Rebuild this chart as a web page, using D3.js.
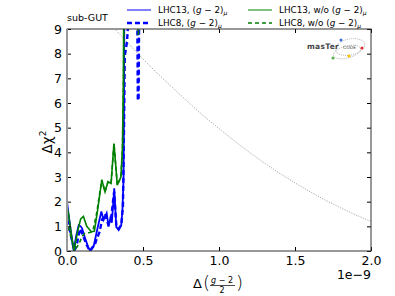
<!DOCTYPE html>
<html lang="en">
<head>
<meta charset="utf-8" />
<title>sub-GUT chi2</title>
<script src="https://cdn.jsdelivr.net/npm/d3@7"></script>
<style>
  body { margin: 0; background: #fff; }
  text { font-family: "DejaVu Sans", sans-serif; }
</style>
</head>
<body>
<svg id="chart" width="395" height="296"></svg>
<script>
// values (x in units of 1e-9)
const xTicks = [0, 0.5, 1.0, 1.5, 2.0];
const yTicks = [0, 1, 2, 3, 4, 5, 6, 7, 8, 9];

const lhc13X = [0, 0.01, 0.03, 0.044, 0.06, 0.077, 0.09, 0.099, 0.12, 0.14, 0.153, 0.175, 0.2, 0.226, 0.241, 0.261, 0.274, 0.285, 0.295, 0.311, 0.324, 0.34, 0.357, 0.365, 0.372, 0.375, 0.377];
const lhc13Y = [2.0, 1.5, 0.6, 0.0, 0.6, 1.05, 1.0, 0.92, 0.5, 0.15, 0.0, 0.18, 0.9, 1.6, 1.26, 1.53, 0.99, 1.33, 1.15, 2.54, 0.98, 0.85, 1.05, 1.7, 2.9, 6, 9.5];

const lhc8X = [0, 0.01, 0.03, 0.048, 0.066, 0.085, 0.1, 0.13, 0.15, 0.186, 0.197, 0.215, 0.23, 0.25, 0.27, 0.29, 0.31, 0.325, 0.34, 0.357, 0.368, 0.375, 0.38, 0.385, 0.395, 0.405, 0.43, 0.462, 0.466, 0.471, 0.475, 0.5];
const lhc8Y = [1.26, 1.1, 0.5, 0.0, 0.31, 0.9, 0.7, 0.24, 0.0, 0.31, 0.52, 0.78, 1.26, 1.5, 1.1, 1.3, 2.4, 1.0, 0.9, 1.05, 1.8, 5, 7.9, 8.1, 8.5, 9.5, 12, 10, 6.1, 6.2, 10, 14];

const lhc13woX = [0, 0.01, 0.03, 0.046, 0.07, 0.09, 0.108, 0.13, 0.16, 0.18, 0.2, 0.229, 0.25, 0.27, 0.29, 0.309, 0.331, 0.355, 0.365, 0.371, 0.373];
const lhc13woY = [1.8, 1.5, 0.6, 0.0, 0.8, 1.3, 1.4, 1.0, 0.78, 0.8, 1.6, 2.88, 2.4, 2.81, 2.74, 4.36, 2.67, 3.01, 4.2, 7, 9.5];

const lhc8woX = [0, 0.01, 0.03, 0.05, 0.08, 0.1, 0.118, 0.15, 0.17, 0.195, 0.229, 0.25, 0.27, 0.29, 0.309, 0.331, 0.355, 0.365, 0.372, 0.375, 0.42, 0.462, 0.466, 0.47, 0.474, 0.5];
const lhc8woY = [0.95, 0.92, 0.5, 0.0, 0.3, 0.6, 0.72, 0.75, 0.8, 1.53, 2.88, 2.4, 2.81, 2.74, 4.36, 2.67, 3.01, 4.2, 7, 9.5, 12, 10, 8.8, 8.8, 10, 13];

// dotted reference curve
const refX = [0.3, 0.4, 0.5, 0.6, 0.7, 0.8, 0.9, 1.0, 1.1, 1.2, 1.3, 1.4, 1.5, 1.6, 1.7, 1.8, 1.9, 2.0];
const refY = [9.1, 8.44, 7.78, 7.17, 6.59, 6.02, 5.47, 4.96, 4.47, 4.0, 3.56, 3.15, 2.76, 2.4, 2.06, 1.75, 1.46, 1.2];

const svg = d3.select("#chart");
const margin = { top: 29, right: 24, bottom: 45, left: 67 };
const width = 395, height = 296;
const innerWidth = width - margin.left - margin.right;
const innerHeight = height - margin.top - margin.bottom;

const g = svg.append("g").attr("transform", `translate(${margin.left},${margin.top})`);

const x = d3.scaleLinear().domain([0, 2]).range([0, innerWidth]);
const y = d3.scaleLinear().domain([0, 9]).range([innerHeight, 0]);

g.append("clipPath").attr("id", "clip")
  .append("rect").attr("width", innerWidth).attr("height", innerHeight);

const plot = g.append("g").attr("clip-path", "url(#clip)");

const line = d3.line().x(d => x(d[0])).y(d => y(d[1]));
const zip = (xs, ys) => xs.map((v, i) => [v, ys[i]]);

plot.append("path")
  .attr("d", line(zip(refX, refY)))
  .attr("fill", "none").attr("stroke", "#999").attr("stroke-width", 1)
  .attr("stroke-dasharray", "1,1.5");

const series = [
  { xs: lhc13X, ys: lhc13Y, color: "#0000ff", w: 1.8, dash: null },
  { xs: lhc8X, ys: lhc8Y, color: "#0000ff", w: 2.4, dash: "5,3" },
  { xs: lhc13woX, ys: lhc13woY, color: "#008000", w: 1.6, dash: null },
  { xs: lhc8woX, ys: lhc8woY, color: "#008000", w: 1.6, dash: "4,3" }
];

series.forEach(s => {
  plot.append("path")
    .attr("d", line(zip(s.xs, s.ys)))
    .attr("fill", "none")
    .attr("stroke", s.color)
    .attr("stroke-width", s.w)
    .attr("stroke-dasharray", s.dash);
});

// axes, matplotlib style inward ticks
const fmt = d3.format(".1f");
const styleAxis = (sel) => {
  sel.select(".domain").remove();
  sel.selectAll("line").attr("stroke", "#000");
  sel.selectAll("text").attr("font-size", "12.5px").attr("fill", "#000")
    .style("font-family", "DejaVu Sans");
};
const noLabels = (sel) => {
  sel.select(".domain").remove();
  sel.selectAll("line").attr("stroke", "#000");
  sel.selectAll("text").remove();
};

g.append("g").attr("transform", `translate(0,${innerHeight})`)
  .call(d3.axisBottom(x).tickValues(xTicks).tickFormat(fmt).tickSize(-4).tickPadding(5))
  .call(styleAxis);
g.append("g")
  .call(d3.axisTop(x).tickValues(xTicks).tickSize(-4))
  .call(noLabels);
g.append("g")
  .call(d3.axisLeft(y).tickValues(yTicks).tickSize(-4).tickPadding(5))
  .call(styleAxis);
g.append("g").attr("transform", `translate(${innerWidth},0)`)
  .call(d3.axisRight(y).tickValues(yTicks).tickSize(-4))
  .call(noLabels);

// frame
g.append("rect").attr("width", innerWidth).attr("height", innerHeight)
  .attr("fill", "none").attr("stroke", "#333").attr("stroke-width", 1);
g.append("line").attr("x1", 0).attr("x2", 0).attr("y1", 0).attr("y2", innerHeight)
  .attr("stroke", "#999").attr("stroke-width", 2);

// axis labels
const yl = svg.append("text")
  .attr("transform", `translate(52,142) rotate(-90)`)
  .attr("text-anchor", "middle").attr("font-size", "13.5px");
yl.append("tspan").text("Δχ");
yl.append("tspan").attr("font-size", "9px").attr("dy", "-6").text("2");

const xl = svg.append("g").attr("transform", "translate(193,0)");
xl.append("text").attr("x", 0).attr("y", 288).attr("font-size", "13px").text("Δ");
xl.append("text").attr("x", 10).attr("y", 289).attr("font-size", "18px").attr("font-weight", "200").text("(");
xl.append("text").attr("x", 29).attr("y", 283).attr("font-size", "8px").attr("text-anchor", "middle")
  .html('<tspan font-style="italic">g</tspan> − 2');
xl.append("line").attr("x1", 17).attr("x2", 42).attr("y1", 285.5).attr("y2", 285.5)
  .attr("stroke", "#000").attr("stroke-width", 0.7);
xl.append("text").attr("x", 29).attr("y", 293).attr("font-size", "8px").attr("text-anchor", "middle").text("2");
xl.append("text").attr("x", 43).attr("y", 289).attr("font-size", "18px").attr("font-weight", "200").text(")");

svg.append("text").attr("x", 371).attr("y", 279).attr("text-anchor", "end")
  .attr("font-size", "12.5px").text("1e−9");

svg.append("text").attr("x", 67).attr("y", 21).attr("font-size", "9.5px").text("sub-GUT");

// legend
const legendItems = [
  { label: "LHC13, ", color: "#0000ff", w: 1, dash: null, lx: 127, ly: 10 },
  { label: "LHC8, ", color: "#0000ff", w: 2.4, dash: "5,3", lx: 127, ly: 23 },
  { label: "LHC13, w/o ", color: "#008000", w: 1, dash: null, lx: 248, ly: 10 },
  { label: "LHC8, w/o ", color: "#008000", w: 1.6, dash: "4,3", lx: 248, ly: 23 }
];
legendItems.forEach(d => {
  svg.append("line").attr("x1", d.lx).attr("x2", d.lx + 24).attr("y1", d.ly).attr("y2", d.ly)
    .attr("stroke", d.color).attr("stroke-width", d.w).attr("stroke-dasharray", d.dash);
  const t = svg.append("text").attr("x", d.lx + 31).attr("y", d.ly + 3).attr("font-size", "8.8px");
  t.append("tspan").text(d.label + "(");
  t.append("tspan").attr("font-style", "italic").text("g");
  t.append("tspan").text(" − 2)");
  t.append("tspan").attr("font-size", "6px").attr("dy", 2).attr("font-style", "italic").text("μ");
});

// mastercode logo
const logo = svg.append("g");
logo.append("ellipse").attr("cx", 350).attr("cy", 47).attr("rx", 15).attr("ry", 8)
  .attr("fill", "none").attr("stroke", "#888").attr("stroke-width", 0.6).attr("stroke-dasharray", "1,1")
  .attr("transform", "rotate(-12,350,47)");
logo.append("ellipse").attr("cx", 347).attr("cy", 52).attr("rx", 14).attr("ry", 6)
  .attr("fill", "none").attr("stroke", "#888").attr("stroke-width", 0.6).attr("stroke-dasharray", "1,1")
  .attr("transform", "rotate(-15,347,52)");
logo.append("text").attr("x", 307).attr("y", 49).attr("font-size", "7.5px").attr("font-weight", "bold")
  .attr("fill", "#444").attr("letter-spacing", "0.3").text("masTer");
logo.append("text").attr("x", 343).attr("y", 49).attr("font-size", "4.5px")
  .attr("fill", "#444").text("CODE");
[[341, 40, "#3a6fd8"], [362, 48, "#e03030"], [349, 56, "#f0c000"], [333, 58, "#50b040"]].forEach(p => {
  logo.append("circle").attr("cx", p[0]).attr("cy", p[1]).attr("r", 1.5).attr("fill", p[2]);
});
</script>
</body>
</html>
